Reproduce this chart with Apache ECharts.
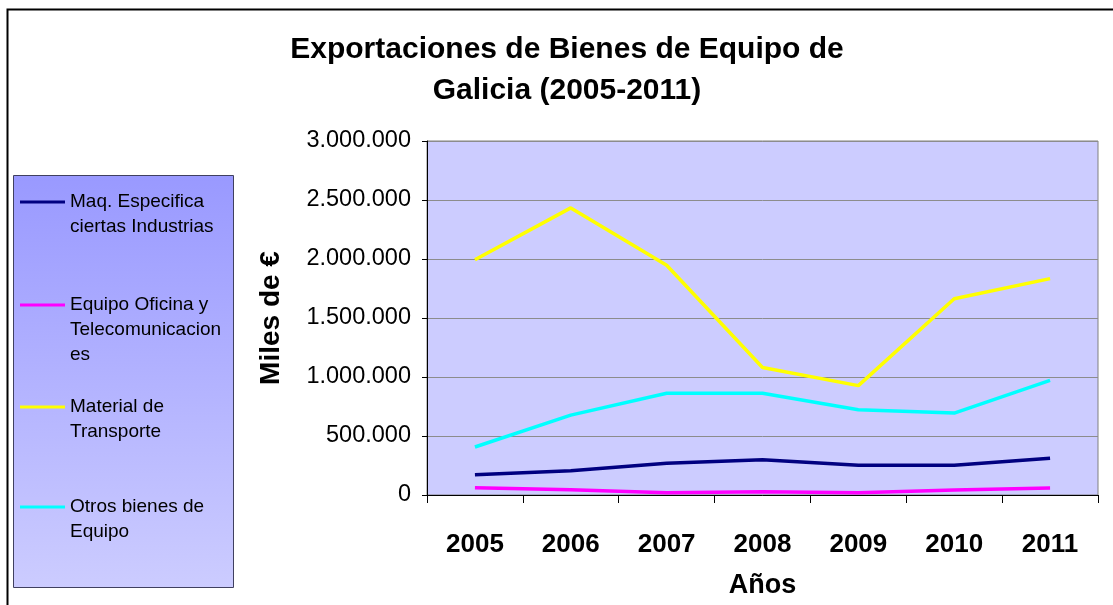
<!DOCTYPE html>
<html>
<head>
<meta charset="utf-8">
<title>Exportaciones de Bienes de Equipo de Galicia</title>
<script src="https://cdn.jsdelivr.net/npm/echarts@6/dist/echarts.min.js"></script>
<style>
  html, body { margin: 0; padding: 0; background: #fff; }
  #chart { width: 1113px; height: 605px; }
</style>
</head>
<body>
<div id="chart"></div>
<script>
const years = ['2005', '2006', '2007', '2008', '2009', '2010', '2011']
const yTicks = [0, 500000, 1000000, 1500000, 2000000, 2500000, 3000000]

// miles de euros
const maqEspecifica = [171000, 205000, 270000, 298000, 253000, 253000, 312000]
const equipoOficina = [62000, 45000, 20000, 28000, 20000, 42000, 59000]
const materialTransporte = [1994000, 2433000, 1947000, 1081000, 927000, 1663000, 1834000]
const otrosBienes = [407000, 677000, 862000, 862000, 722000, 694000, 972000]

const seriesNames = [
  'Maq. Especifica ciertas Industrias',
  'Equipo Oficina y Telecomunicaciones',
  'Material de Transporte',
  'Otros bienes de Equipo'
]
const legendLabels = [
  'Maq. Especifica\nciertas Industrias',
  'Equipo Oficina y\nTelecomunicacion\nes',
  'Material de\nTransporte',
  'Otros bienes de\nEquipo'
]
const colors = ['#000080', '#ff00ff', '#ffff00', '#00ffff']
const values = [maqEspecifica, equipoOficina, materialTransporte, otrosBienes]

const fmt = v => String(v).replace(/\B(?=(\d{3})+(?!\d))/g, '.')

const font = 'Arial, "Liberation Sans", sans-serif'
const lineH = 25
// first text line centre of every legend entry
const legendLineY = [202, 305, 407, 507]

const chart = echarts.init(document.getElementById('chart'))

// the legend icon sits on the middle of the text block, so blank lines
// are put in front to bring the first real line level with the icon
const legends = seriesNames.map((name, i) => {
  const n = legendLabels[i].split('\n').length
  return {
    data: [name],
    left: 20,
    top: legendLineY[i] - (n - 0.5) * lineH,
    orient: 'vertical',
    padding: 0,
    z: 5,
    icon: 'rect',
    itemWidth: 45,
    itemHeight: 3,
    itemGap: 0,
    selectedMode: false,
    formatter: () => '\n'.repeat(n - 1) + legendLabels[i],
    textStyle: {
      fontFamily: font,
      fontSize: 19,
      color: '#000',
      lineHeight: lineH
    }
  }
})

const option = {
  animation: false,
  backgroundColor: '#fff',
  textStyle: { fontFamily: font },
  title: {
    text: 'Exportaciones de Bienes de Equipo de\nGalicia (2005-2011)',
    left: 562,
    top: 24,
    textAlign: 'center',
    textStyle: {
      fontFamily: font,
      fontSize: 30,
      fontWeight: 'bold',
      color: '#000',
      lineHeight: 41
    }
  },
  graphic: [
    {
      type: 'rect',
      z: 0,
      silent: true,
      shape: { x: 7.5, y: 9.5, width: 1200, height: 700 },
      style: { fill: 'none', stroke: '#000', lineWidth: 2 }
    },
    {
      type: 'rect',
      z: 1,
      silent: true,
      shape: { x: 13.5, y: 175.5, width: 220, height: 412 },
      style: {
        fill: new echarts.graphic.LinearGradient(0, 0, 0, 1, [
          { offset: 0, color: '#9999ff' },
          { offset: 1, color: '#ccccff' }
        ]),
        stroke: '#404060',
        lineWidth: 1
      }
    }
  ],
  legend: legends,
  grid: {
    left: 427,
    right: 15,
    top: 141,
    bottom: 110,
    containLabel: false,
    outerBoundsMode: 'none',
    show: true,
    backgroundColor: '#ccccff',
    borderColor: '#808080',
    borderWidth: 1
  },
  xAxis: {
    type: 'category',
    data: years,
    boundaryGap: true,
    name: 'Años',
    nameLocation: 'middle',
    nameGap: 77,
    nameTextStyle: { fontFamily: font, fontSize: 27, fontWeight: 'bold', color: '#000' },
    axisLine: { lineStyle: { color: '#000', width: 1 } },
    axisTick: { show: true, length: 8, alignWithLabel: false, lineStyle: { color: '#000' } },
    axisLabel: { margin: 37, fontFamily: font, fontSize: 26, fontWeight: 'bold', color: '#000' },
    splitLine: { show: false }
  },
  yAxis: {
    type: 'value',
    min: yTicks[0],
    max: yTicks[yTicks.length - 1],
    interval: yTicks[1] - yTicks[0],
    name: 'Miles de €',
    nameLocation: 'middle',
    nameGap: 142,
    nameTextStyle: { fontFamily: font, fontSize: 28, fontWeight: 'bold', color: '#000' },
    axisLine: { show: true, lineStyle: { color: '#000', width: 1 } },
    axisTick: { show: true, length: 5, lineStyle: { color: '#000' } },
    axisLabel: { margin: 16, fontFamily: font, fontSize: 23.5, color: '#000', formatter: fmt },
    splitLine: { show: true, lineStyle: { color: '#8c8c8c', width: 1 } }
  },
  series: seriesNames.map((name, i) => ({
    name,
    type: 'line',
    data: values[i],
    symbol: 'none',
    lineStyle: { color: colors[i], width: 3.5 },
    itemStyle: { color: colors[i] },
    z: 3
  }))
}

chart.setOption(option)
</script>
</body>
</html>
